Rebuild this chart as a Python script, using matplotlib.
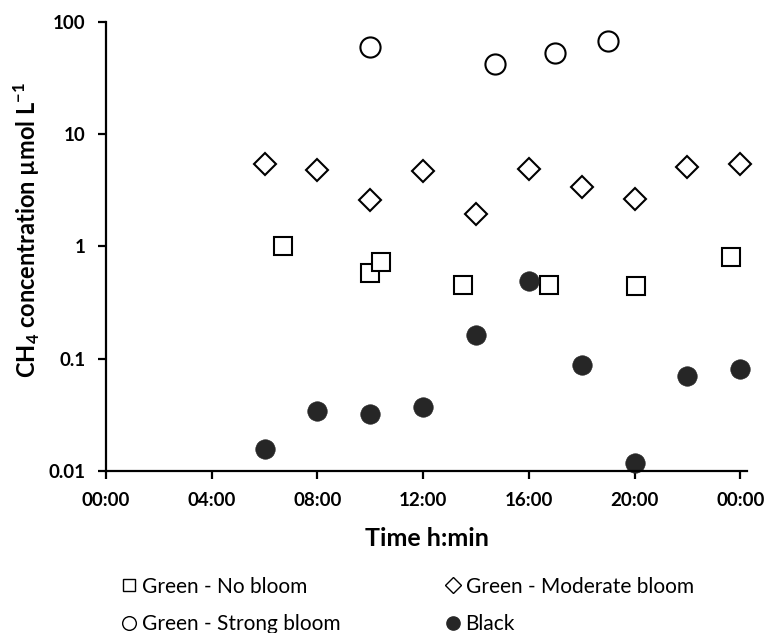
import matplotlib
matplotlib.use("Agg")
import matplotlib.pyplot as plt
from matplotlib.ticker import FixedLocator, FixedFormatter, NullLocator

plt.rcParams['font.family'] = ['Lato', 'DejaVu Sans']

# time in hours of the day (24 = midnight at end)
t_no = [6.7, 10.0, 10.4, 13.5, 16.75, 20.05, 23.65]
c_no = [1.0, 0.58, 0.72, 0.45, 0.45, 0.44, 0.81]

t_mod = [6, 8, 10, 12, 14, 16, 18, 20, 22, 24]
c_mod = [5.4, 4.8, 2.6, 4.7, 1.96, 4.9, 3.4, 2.65, 5.05, 5.4]

t_strong = [10.0, 14.7, 17.0, 19.0]
c_strong = [60, 42, 53, 68]

t_black = [6, 8, 10, 12, 14, 16, 18, 20, 22, 24]
c_black = [0.0155, 0.034, 0.032, 0.037, 0.163, 0.49, 0.088, 0.0117, 0.07, 0.08]

x_ticks = [0, 4, 8, 12, 16, 20, 24]
x_labels = ['00:00', '04:00', '08:00', '12:00', '16:00', '20:00', '00:00']
y_ticks = [0.01, 0.1, 1, 10, 100]
y_labels = ['0.01', '0.1', '1', '10', '100']

fig = plt.figure(figsize=(7.7, 6.33), dpi=100)
ax = fig.add_axes([0.1377, 0.2564, 0.8323, 0.7088])

ax.plot(t_no, c_no, 's', ms=13.5, mfc='white', mec='black', mew=1.5, ls='none',
        label='Green - No bloom', clip_on=False)
ax.plot(t_strong, c_strong, 'o', ms=14.5, mfc='white', mec='black', mew=1.5, ls='none',
        label='Green - Strong bloom', clip_on=False)
ax.plot(t_mod, c_mod, 'D', ms=11.5, mfc='white', mec='black', mew=1.5, ls='none',
        label='Green - Moderate bloom', clip_on=False)
ax.plot(t_black, c_black, 'o', ms=14, mfc='#262626', mec='#262626', mew=0.5, ls='none',
        label='Black', clip_on=False)

ax.set_yscale('log')
ax.set_ylim(0.01, 100)
ax.set_xlim(0, 24.25)
ax.yaxis.set_major_locator(FixedLocator(y_ticks))
ax.yaxis.set_major_formatter(FixedFormatter(y_labels))
ax.yaxis.set_minor_locator(NullLocator())
ax.set_xticks(x_ticks)
ax.set_xticklabels(x_labels)

for s in ['top', 'right']:
    ax.spines[s].set_visible(False)
for s in ['left', 'bottom']:
    ax.spines[s].set_linewidth(1.6)
ax.tick_params(direction='out', length=6, width=1.6, labelsize=13.5)
ax.tick_params(axis='x', pad=9)
ax.tick_params(axis='y', pad=9)
for lab in ax.get_xticklabels() + ax.get_yticklabels():
    lab.set_fontweight('bold')

ax.set_xlabel('Time h:min', fontsize=18, fontweight='bold')
ax.xaxis.set_label_coords(0.5, -0.125)
ax.set_ylabel(r'CH$_\mathregular{4}$ concentration µmol L$^\mathregular{-1}$',
              fontsize=17, fontweight='bold')
ax.yaxis.set_label_coords(-0.1, 0.537)

h, l = ax.get_legend_handles_labels()
leg = fig.legend(h, l, ncol=2, loc='upper left', bbox_to_anchor=(0.16, 0.089),
                 frameon=False, fontsize=15, markerscale=0.68, handlelength=0.6,
                 handletextpad=0.3, columnspacing=5.1, labelspacing=0.85,
                 borderaxespad=0, borderpad=0)
for lh in leg.legend_handles:
    lh.set_markeredgewidth(1.0)

fig.savefig('out.png', dpi=100)
